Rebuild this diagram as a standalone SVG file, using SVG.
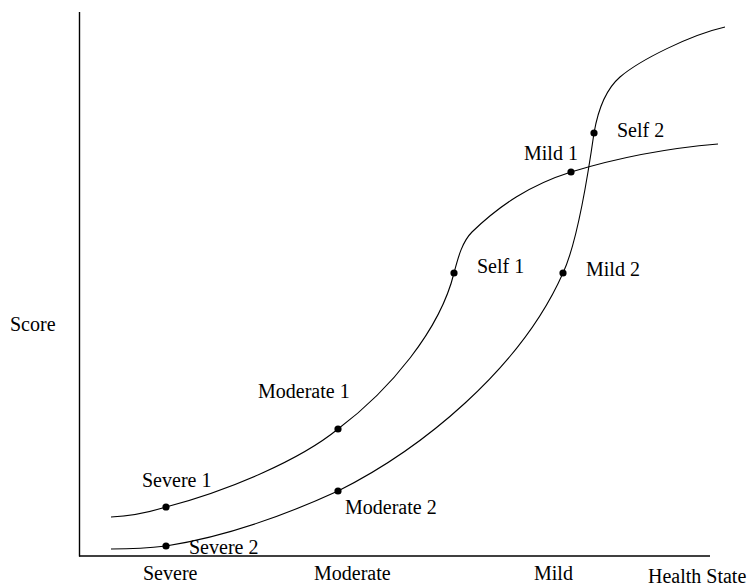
<svg xmlns="http://www.w3.org/2000/svg" width="756" height="587" viewBox="0 0 756 587">
<style>
.axis{stroke:#000;stroke-width:1.4;fill:none}
.curve{stroke:#000;stroke-width:1.1;fill:none}
.dot{fill:#000}
text{font-family:"Liberation Serif","Times New Roman",serif;font-size:20px;fill:#000}
</style>
<rect width="756" height="587" fill="#fff"/>
<g id="axes">
<line class="axis" x1="79.5" y1="12" x2="79.5" y2="556.5"/>
<line class="axis" x1="79" y1="556" x2="710" y2="556"/>
<text x="10" y="331">Score</text>
<text x="143" y="580">Severe</text>
<text x="314" y="580">Moderate</text>
<text x="534" y="580">Mild</text>
<text x="648" y="583">Health State</text>
</g>
<g id="connectors">
<path id="curve1" class="curve" d="M111,517 C135,516 150,512 166,507 C230,490 300,460 338,429 C390,390 440,330 454,273 C458,258 462,242 472,232 C500,205 530,185 571,172 C620,157 670,148 718,144"/>
<path id="curve2" class="curve" d="M111,549 C135,549 150,548 166,546 C230,536 290,513 338,491 C420,450 520,370 563,273 C577,243 588,175 594,133 C598,110 605,90 620,77 C640,60 690,35 725,27"/>
</g>
<g id="severe1"><circle class="dot" cx="166" cy="507" r="3.6"/><text x="142" y="487">Severe 1</text></g>
<g id="severe2"><circle class="dot" cx="166" cy="546" r="3.6"/><text x="189" y="554">Severe 2</text></g>
<g id="moderate1"><circle class="dot" cx="338" cy="429" r="3.6"/><text x="258" y="398">Moderate 1</text></g>
<g id="moderate2"><circle class="dot" cx="338" cy="491" r="3.6"/><text x="345" y="514">Moderate 2</text></g>
<g id="self1"><circle class="dot" cx="454" cy="273" r="3.6"/><text x="477" y="273">Self 1</text></g>
<g id="mild2"><circle class="dot" cx="563" cy="273" r="3.6"/><text x="586" y="276">Mild 2</text></g>
<g id="mild1"><circle class="dot" cx="571" cy="172" r="3.6"/><text x="524" y="160">Mild 1</text></g>
<g id="self2"><circle class="dot" cx="594" cy="133" r="3.6"/><text x="617" y="137">Self 2</text></g>
</svg>
